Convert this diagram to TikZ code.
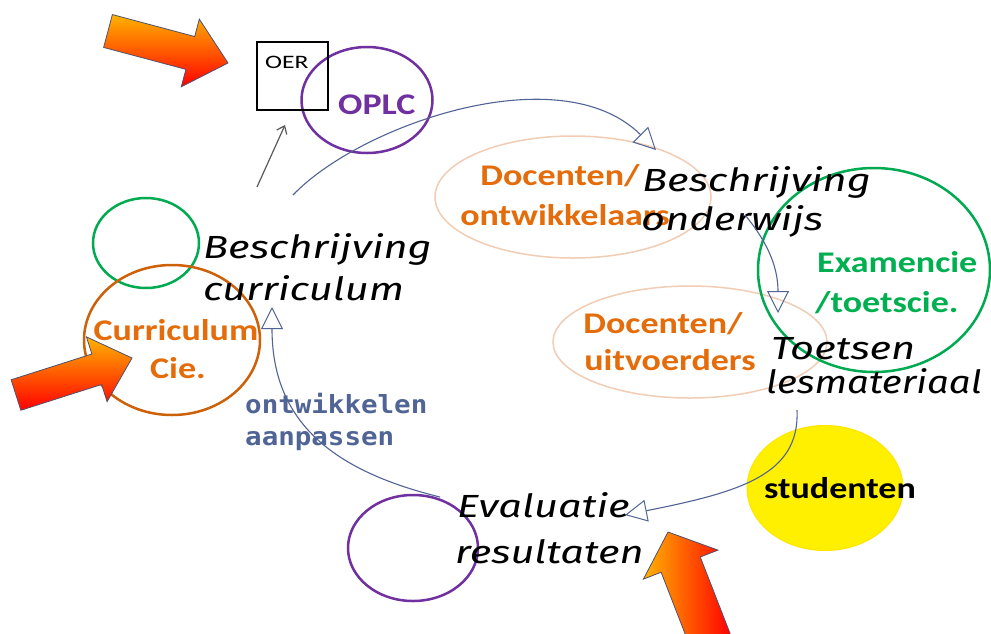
\documentclass[tikz,border=0pt]{standalone}
\usepackage{fontspec}
\usepackage{graphicx}
\usetikzlibrary{shapes.geometric,arrows.meta,calc}
\newfontfamily\labfont{Carlito}
\newfontfamily\handfont{Fira Sans}
\newfontfamily\codefont{DejaVu Sans Mono}
\newcommand\sx[1]{\scalebox{1.2}[1]{#1}}
\newcommand\hx[1]{\scalebox{1.3}[1]{#1}}
\newcommand\mx[1]{\scalebox{1.1}[1]{#1}}
\definecolor{corange}{RGB}{228,108,10}
\definecolor{cpeach}{RGB}{240,205,180}
\definecolor{cgreen}{RGB}{0,170,80}
\definecolor{cgreentext}{RGB}{0,176,80}
\definecolor{cpurple}{RGB}{112,48,160}
\definecolor{cblue}{RGB}{80,100,150}
\definecolor{cyellow}{RGB}{255,240,0}
\definecolor{arrowedge}{RGB}{80,80,110}
\newcommand\fatarrow[6]{%
  \coordinate (fa0) at (#1);
  \coordinate (fa1) at (#2);
  \coordinate (fac) at ($(fa1)!#5!(fa0)$);
  \shade[#6, draw=arrowedge, line width=0.8pt, line join=miter]
    ($(fa0)!#3!90:(fa1)$) -- ($(fac)!#3!-90:(fa0)$) -- ($(fac)!#4!-90:(fa0)$) -- (fa1)
    -- ($(fac)!#4!90:(fa0)$) -- ($(fac)!#3!90:(fa0)$) -- ($(fa0)!#3!-90:(fa1)$) -- cycle;}
\tikzset{
  ring/.style={draw, ellipse, inner sep=0pt, fill=none},
  lab/.style={font=\labfont\bfseries\fontsize{30}{34}\selectfont, inner sep=0pt},
  hand/.style={font=\handfont\itshape\fontsize{32}{36}\selectfont, inner sep=0pt, text=black},
  conn/.style={draw=cblue, line width=1.1pt, -{Triangle[open, length=22pt, width=22pt, line width=1pt]}},
}
\begin{document}
\begin{tikzpicture}[x=1pt,y=-1pt]
\useasboundingbox (0,0) rectangle (991,633);
\fill[white] (0,0) rectangle (991,633);

% circles / ellipses
\node[ring, draw=cgreen, line width=2.5pt, minimum width=106pt, minimum height=90pt] (gl) at (146,243) {};
\node[ring, draw=corange!90!black, line width=2.5pt, minimum width=176pt, minimum height=150pt] (cc) at (172,340) {};
\node[ring, draw=cpurple, line width=2.5pt, minimum width=131pt, minimum height=106pt] (op) at (367,100) {};
\node[draw=black, line width=1.5pt, minimum width=71pt, minimum height=68pt, inner sep=0pt] (oer) at (292.5,76) {};
\node[ring, draw=cpeach, line width=1.5pt, minimum width=276pt, minimum height=122pt] (dont) at (573,197) {};
\node[ring, draw=cpeach, line width=1.5pt, minimum width=274pt, minimum height=112pt] (duit) at (690,342) {};
\node[ring, draw=cgreen, line width=2.5pt, minimum width=232pt, minimum height=204pt] (ex) at (874,270) {};
\node[ring, draw=cyellow!90!orange, fill=cyellow, line width=1pt, minimum width=156pt, minimum height=125pt] (st) at (825,488) {};
\node[ring, draw=cpurple, line width=2.5pt, minimum width=130pt, minimum height=106pt] (ev) at (413,548) {};

% labels
\node[anchor=base west, font=\labfont\fontsize{19}{22}\selectfont, inner sep=0pt] (oert) at (265,68) {\scalebox{1.35}[1]{OER}};
\node[lab, text=cpurple, anchor=base west] (oplct) at (338,114) {\sx{OPLC}};
\node[lab, text=corange, anchor=base] (dont1) at (560,185) {\sx{Docenten/}};
\node[lab, text=corange, anchor=base] (dont2) at (565,225) {\sx{ontwikkelaars}};
\node[lab, text=corange, anchor=base] (duit1) at (663,333) {\sx{Docenten/}};
\node[lab, text=corange, anchor=base] (duit2) at (670,370) {\sx{uitvoerders}};
\node[lab, text=cgreentext, anchor=base west] (ex1) at (817,272) {\sx{Examencie}};
\node[lab, text=cgreentext, anchor=base west] (ex2) at (815,312) {\sx{/toetscie.}};
\node[lab, text=corange, anchor=base] (cc1) at (176,340) {\sx{Curriculum}};
\node[lab, text=corange, anchor=base] (cc2) at (178,378) {\sx{Cie.}};
\node[lab, text=black, anchor=base] (stt) at (840,498) {\sx{studenten}};
\node[font=\codefont\bfseries\fontsize{25}{28}\selectfont, text=cblue, anchor=base west, inner sep=0pt] (ont1) at (245,413) {\mx{ontwikkelen}};
\node[font=\codefont\bfseries\fontsize{25}{28}\selectfont, text=cblue, anchor=base west, inner sep=0pt] (ont2) at (245,445) {\mx{aanpassen}};

% handwritten texts
\node[hand, anchor=base west] (bc1) at (203,258) {\hx{Beschrijving}};
\node[hand, anchor=base west] (bc2) at (203,300) {\hx{curriculum}};
\node[hand, anchor=base west] (bo1) at (642,191) {\hx{Beschrijving}};
\node[hand, anchor=base west] (bo2) at (641,230) {\hx{onderwijs}};
\node[hand, anchor=base west] (tl1) at (771,359) {\hx{Toetsen}};
\node[hand, anchor=base west] (tl2) at (766,393) {\scalebox{1.2}[1]{lesmateriaal}};
\node[hand, anchor=base west] (er1) at (457,517) {\hx{Evaluatie}};
\node[hand, anchor=base west] (er2) at (455,563) {\hx{resultaten}};

% connectors
\coordinate (g0) at (257,187);
\coordinate (g1) at (285,125);
\draw[gray!70!black, line width=1.2pt, -{Straight Barb[length=7pt, width=11pt]}] (g0) -- (g1);

\coordinate (a0) at (293,195);
\coordinate (a1) at (656,150);
\draw[conn] (a0) .. controls (360,125) and (560,55) .. (a1);

\coordinate (b0) at (745,215);
\coordinate (b1) at (778,313);
\draw[conn] (b0) .. controls (770,245) and (778,270) .. (b1);

\coordinate (c0) at (797,410);
\coordinate (c1) at (625,515);
\draw[conn] (c0) .. controls (800,475) and (740,492) .. (c1);

\coordinate (d0) at (440,497);
\coordinate (d1) at (272,307);
\draw[conn] (d0) .. controls (330,470) and (272,420) .. (d1);

% fat arrows
\fatarrow{108,31}{228,63}{17pt}{35pt}{39pt}{top color=orange!60!yellow, bottom color=red}
\fatarrow{16,395}{132,358}{16pt}{34pt}{37pt}{top color=orange!60!yellow, bottom color=red}
\fatarrow{712,645}{668,532}{21pt}{40pt}{35pt}{left color=orange!60!yellow, right color=red}
\end{tikzpicture}
\end{document}
